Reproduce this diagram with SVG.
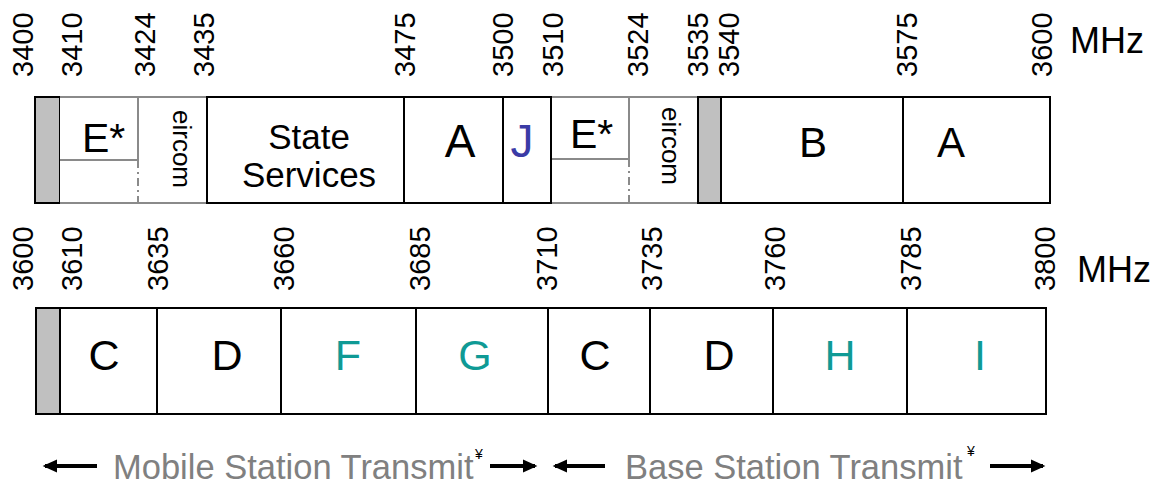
<svg xmlns="http://www.w3.org/2000/svg" width="1163" height="484" viewBox="0 0 1163 484">
<style>
text{font-family:"Liberation Sans",Arial,sans-serif;fill:#000}
.lbl{font-size:29px}
.mhz{font-size:36px}
.cell{fill:#fff;stroke:#000;stroke-width:2}
.guard{fill:#c0c0c0;stroke:#000;stroke-width:2}
.gline{fill:none;stroke:#8a8a8a;stroke-width:2}
.dash{fill:none;stroke:#8a8a8a;stroke-width:2;stroke-dasharray:8 4 2 4}
.teal{fill:#0f9a95}
.blue{fill:#3b3ba6}
.cap{font-size:34.5px;fill:#808080}
.yen{font-size:14px}
.arr{stroke:#000;stroke-width:4;fill:none;marker-end:url(#ah)}
</style>
<defs>
<marker id="ah" markerWidth="4" markerHeight="4" refX="3" refY="2" orient="auto" markerUnits="strokeWidth">
<path d="M0,0.4 L3.6,2 L0,3.6 z" fill="#000"/>
</marker>
</defs>
<rect width="1163" height="484" fill="#fff"/>

<g id="top-labels" class="lbl">
<text transform="translate(33,77) rotate(-90)">3400</text>
<text transform="translate(82,77) rotate(-90)">3410</text>
<text transform="translate(155,77) rotate(-90)">3424</text>
<text transform="translate(214,77) rotate(-90)">3435</text>
<text transform="translate(415,77) rotate(-90)">3475</text>
<text transform="translate(513,77) rotate(-90)">3500</text>
<text transform="translate(563,77) rotate(-90)">3510</text>
<text transform="translate(648,77) rotate(-90)">3524</text>
<text transform="translate(708,77) rotate(-90)">3535</text>
<text transform="translate(739,77) rotate(-90)">3540</text>
<text transform="translate(917,77) rotate(-90)">3575</text>
<text transform="translate(1052,77) rotate(-90)">3600</text>
<text class="mhz" x="1070" y="53">MHz</text>
</g>

<g id="top-guard1"><rect class="guard" x="35" y="97" width="25" height="106"/></g>
<g id="top-E1">
<rect x="60" y="97" width="147" height="106" fill="#fff"/>
<path class="gline" d="M60,97 H207 M60,203 H207 M60,160 H138 M138,97 V160"/>
<path class="dash" d="M138,160 V203"/>
<text x="82" y="152" font-size="41">E*</text>
</g>
<g id="top-eircom1"><text transform="translate(173,110) rotate(90)" font-size="26">eircom</text></g>
<g id="top-state"><rect class="cell" x="207" y="97" width="197" height="106"/>
<text x="309" y="149" font-size="35" text-anchor="middle">State</text>
<text x="309" y="187" font-size="35" text-anchor="middle">Services</text></g>
<g id="top-A1"><rect class="cell" x="404" y="97" width="99" height="106"/>
<text x="460" y="157" font-size="46" text-anchor="middle">A</text></g>
<g id="top-J"><rect class="cell" x="503" y="97" width="48" height="106"/>
<text class="blue" x="522" y="157" font-size="46" text-anchor="middle">J</text></g>
<g id="top-E2">
<rect x="551" y="97" width="147" height="106" fill="#fff"/>
<path class="gline" d="M551,97 H698 M551,203 H698 M551,159 H629 M629,97 V159"/>
<path class="dash" d="M629,159 V203"/>
<line x1="551" y1="96" x2="551" y2="204" stroke="#000" stroke-width="2"/>
<text x="570" y="148" font-size="41">E*</text>
</g>
<g id="top-eircom2"><text transform="translate(662,107) rotate(90)" font-size="26">eircom</text></g>
<g id="top-guard2"><rect class="guard" x="698" y="97" width="23" height="106"/></g>
<g id="top-B"><rect class="cell" x="721" y="97" width="182" height="106"/>
<text x="813" y="157" font-size="42" text-anchor="middle">B</text></g>
<g id="top-A2"><rect class="cell" x="903" y="97" width="147" height="106"/>
<text x="951" y="157" font-size="42" text-anchor="middle">A</text></g>

<g id="bottom-labels" class="lbl">
<text transform="translate(33,291) rotate(-90)">3600</text>
<text transform="translate(82,291) rotate(-90)">3610</text>
<text transform="translate(168,291) rotate(-90)">3635</text>
<text transform="translate(294,291) rotate(-90)">3660</text>
<text transform="translate(430,291) rotate(-90)">3685</text>
<text transform="translate(557,291) rotate(-90)">3710</text>
<text transform="translate(662,291) rotate(-90)">3735</text>
<text transform="translate(785,291) rotate(-90)">3760</text>
<text transform="translate(921,291) rotate(-90)">3785</text>
<text transform="translate(1055,291) rotate(-90)">3800</text>
<text class="mhz" x="1077" y="282">MHz</text>
</g>

<g id="bot-guard"><rect class="guard" x="36" y="308" width="24" height="106"/></g>
<g id="bot-C1"><rect class="cell" x="60" y="308" width="97" height="106"/>
<text x="104" y="370" font-size="43" text-anchor="middle">C</text></g>
<g id="bot-D1"><rect class="cell" x="157" y="308" width="124" height="106"/>
<text x="227" y="370" font-size="43" text-anchor="middle">D</text></g>
<g id="bot-F"><rect class="cell" x="281" y="308" width="135" height="106"/>
<text class="teal" x="348" y="370" font-size="43" text-anchor="middle">F</text></g>
<g id="bot-G"><rect class="cell" x="416" y="308" width="132" height="106"/>
<text class="teal" x="475" y="370" font-size="43" text-anchor="middle">G</text></g>
<g id="bot-C2"><rect class="cell" x="548" y="308" width="102" height="106"/>
<text x="595" y="370" font-size="43" text-anchor="middle">C</text></g>
<g id="bot-D2"><rect class="cell" x="650" y="308" width="123" height="106"/>
<text x="719" y="370" font-size="43" text-anchor="middle">D</text></g>
<g id="bot-H"><rect class="cell" x="773" y="308" width="134" height="106"/>
<text class="teal" x="840" y="370" font-size="43" text-anchor="middle">H</text></g>
<g id="bot-I"><rect class="cell" x="907" y="308" width="139" height="106"/>
<text class="teal" x="980" y="370" font-size="43" text-anchor="middle">I</text></g>

<g id="captions">
<text class="cap" x="113" y="479">Mobile Station Transmit</text>
<text class="yen" x="475" y="459">¥</text>
<text class="cap" x="625" y="479">Base Station Transmit</text>
<text class="yen" x="967" y="456">¥</text>
</g>
<g id="connectors">
<line class="arr" x1="97" y1="466" x2="45" y2="466"/>
<line class="arr" x1="490" y1="466" x2="535" y2="466"/>
<line class="arr" x1="605" y1="466" x2="555" y2="466"/>
<line class="arr" x1="990" y1="466" x2="1043" y2="466"/>
</g>
</svg>
